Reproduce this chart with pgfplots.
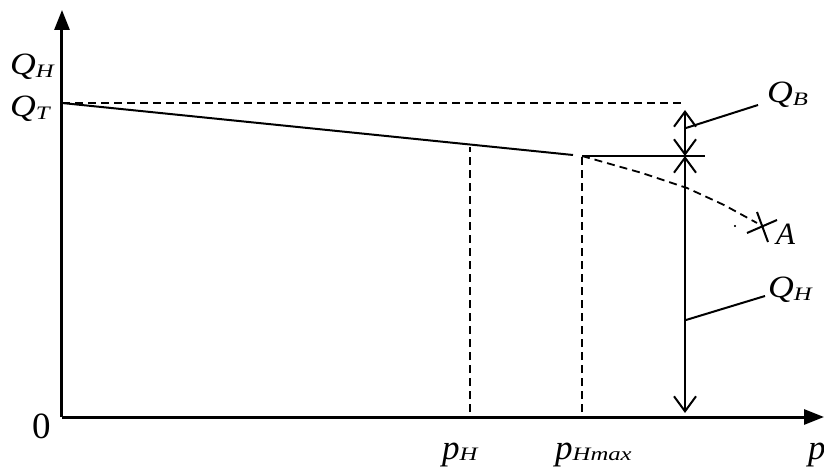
\documentclass[border=0pt]{standalone}
\usepackage{pgfplots}
\pgfplotsset{compat=1.18}
\usetikzlibrary{arrows.meta}
\usepackage{fontspec}
\setmainfont{Liberation Serif}
\newcommand{\sub}[1]{\raisebox{-3pt}{\fontsize{19}{21}\selectfont\itshape\scalebox{1.3}[1]{#1}}}
\newcommand{\psub}[1]{\raisebox{-1pt}{\fontsize{19}{21}\selectfont\itshape\scalebox{1.3}[1]{#1}}}
\newcommand{\QQ}{\scalebox{1.15}[1]{Q}}
\tikzset{
  lab/.style={font=\fontsize{31}{34}\selectfont\itshape, inner sep=0pt, anchor=base west},
  plab/.style={font=\fontsize{35}{38}\selectfont\itshape, inner sep=0pt, anchor=base west},
  barb/.style={line width=2.5pt, {Straight Barb[length=15pt,width=22pt,line width=2pt]}-{Straight Barb[length=15pt,width=22pt,line width=2pt]}},
}
\begin{document}
\begin{tikzpicture}
\begin{axis}[
  at={(0,0)}, anchor=origin,
  x=1pt, y=1pt,
  xmin=0, xmax=762, ymin=0, ymax=407,
  axis lines=left,
  axis line style={line width=3pt, -{Triangle[length=20pt,width=15pt]}},
  xtick=\empty, ytick=\empty,
  clip=false,
  dsh/.style={line width=1.8pt, dash pattern=on 8pt off 5pt},
  sol/.style={line width=2pt},
]
% dashed level Q_T
\addplot[dsh] coordinates {(0,314) (623,314)};
% working characteristic
\addplot[sol] coordinates {(0,314) (511,262)};
% dashed verticals at p_H and p_Hmax
\addplot[dsh] coordinates {(408,5) (408,270)};
\addplot[dsh] coordinates {(520,5) (520,261)};
% horizontal level at p_Hmax
\addplot[sol] coordinates {(520,261) (643,261)};
% dashed falling branch to A
\addplot[dsh] coordinates {(520,261) (580,244) (625,229) (662,212) (695,194)};
\addplot[only marks, mark=*, mark size=0.8pt] coordinates {(673,191)};
% cross at A
\addplot[sol] coordinates {(685,184) (715,197)};
\addplot[sol] coordinates {(695,205) (706,175)};
% double arrows Q_B and Q_H
\addplot[barb] coordinates {(623,307) (623,261)};
\addplot[barb] coordinates {(623,261) (623,4)};
% leader lines
\addplot[sol] coordinates {(624,289) (696,312)};
\addplot[sol] coordinates {(624,97) (703,121)};
% labels
\node[lab] at (axis cs:-52,342) {\QQ\sub{H}};
\node[lab] at (axis cs:-52,300) {\QQ\sub{T}};
\node[font=\fontsize{37}{40}\selectfont, inner sep=0pt, anchor=base west] at (axis cs:-30,-21) {0};
\node[lab] at (axis cs:705,314) {\QQ\sub{B}};
\node[lab] at (axis cs:714,172) {A};
\node[lab] at (axis cs:706,119) {\QQ\sub{H}};
\node[plab] at (axis cs:380,-42) {p\psub{H}};
\node[plab] at (axis cs:493,-42) {p\psub{Hmax}};
\node[plab] at (axis cs:746,-42) {p};
\end{axis}
\pgfresetboundingbox
\path[use as bounding box] (-62pt,-54pt) rectangle (762pt,417pt);
\end{tikzpicture}
\end{document}
